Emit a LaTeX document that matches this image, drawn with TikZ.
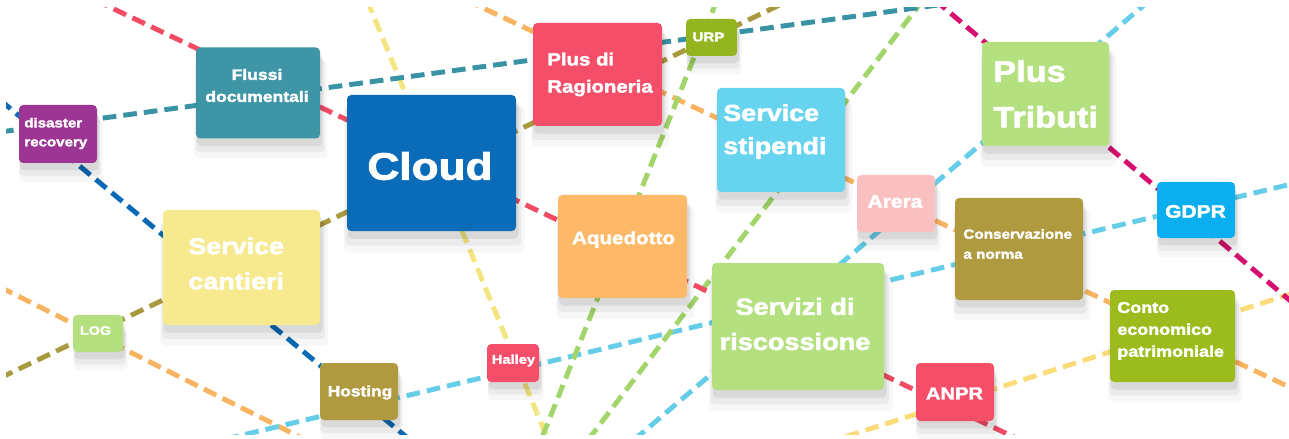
\documentclass[tikz,border=0pt]{standalone}
\usepackage{fontspec}
\newfontfamily\tilefont{Liberation Sans}[FakeStretch=1.16, BoldFeatures={FakeBold=2.2}]
\usetikzlibrary{shadows}

\definecolor{tpurple}{HTML}{9C3593}
\definecolor{tteal}{HTML}{3D95A6}
\definecolor{tblue}{HTML}{0A6BB8}
\definecolor{tred}{HTML}{F44E69}
\definecolor{tolive}{HTML}{93B51F}
\definecolor{tcyan}{HTML}{66D3EF}
\definecolor{tlime}{HTML}{B4E07F}
\definecolor{tpink}{HTML}{FAC0C0}
\definecolor{tkhaki}{HTML}{B09A3F}
\definecolor{tsky}{HTML}{0BAFEF}
\definecolor{tsand}{HTML}{F7E98E}
\definecolor{torange}{HTML}{FDB968}
\definecolor{tgrass}{HTML}{9BBC1C}
% dashed connectors
\definecolor{lred}{HTML}{F24C65}
\definecolor{lteal}{HTML}{3A93A4}
\definecolor{lblue}{HTML}{0A6AB5}
\definecolor{lkhaki}{HTML}{A89A3E}
\definecolor{lyellow}{HTML}{F3E57F}
\definecolor{lgreen}{HTML}{A2D56A}
\definecolor{lorange}{HTML}{F9B462}
\definecolor{lcyan}{HTML}{66CDE8}
\definecolor{lmagenta}{HTML}{D6106E}
\definecolor{lgold}{HTML}{FBDC78}

\tikzset{
  tile/.style={rounded corners=2.4pt, inner sep=0pt, outer sep=0pt,
    general shadow={fill=black, opacity=0.03, shadow xshift=1.5pt, shadow yshift=-9pt, shadow scale=1.07},
    general shadow={fill=black, opacity=0.05, shadow xshift=1pt, shadow yshift=-6.5pt, shadow scale=1.04},
    general shadow={fill=black, opacity=0.07, shadow xshift=1pt, shadow yshift=-4pt, shadow scale=1.01}},
  tilesize/.style 2 args={minimum width=#1*0.02cm, minimum height=#2*0.02cm},
  caption/.style 2 args={text=white, inner sep=0pt,
    font=\tilefont\bfseries\fontsize{#1}{#2}\selectfont},
  link/.style={line width=2.8pt, dash pattern=on 7.8pt off 4pt},
}

\begin{document}
\begin{tikzpicture}[x=0.02cm, y=-0.02cm]
			%%%%% FRAME %%%%%
			\fill[white] (0, 0) rectangle (1289, 439);
			\useasboundingbox (0, 0) rectangle (1289, 439);
			
			%%%%% LINES %%%%%
			\begin{scope}
			\clip (6, 8) rectangle (1289, 434);
			\coordinate (red-a) at (95, 0);     \coordinate (red-b) at (1020, 440);
			\coordinate (teal-a) at (0, 132);   \coordinate (teal-b) at (975, 0);
			\coordinate (blue-a) at (0, 100);   \coordinate (blue-b) at (410, 440);
			\coordinate (khaki-a) at (0, 378);  \coordinate (khaki-b) at (790, 0);
			\coordinate (yel-a) at (367, 0);    \coordinate (yel-b) at (548, 440);
			\coordinate (grn-a) at (717, 0);    \coordinate (grn-b) at (541, 440);
			\coordinate (grn2-a) at (923, 0);   \coordinate (grn2-b) at (588, 440);
			\coordinate (org-a) at (466, 0);    \coordinate (org-b) at (1300, 392);
			\coordinate (org2-a) at (0, 287);   \coordinate (org2-b) at (310, 442);
			\coordinate (cyan-a) at (205, 444); \coordinate (cyan-b) at (1300, 182);
			\coordinate (cyan2-a) at (634, 440);\coordinate (cyan2-b) at (1150, 0);
			\coordinate (mag-a) at (935, 0);    \coordinate (mag-b) at (1300, 309);
			\coordinate (gold-a) at (826, 443); \coordinate (gold-b) at (1300, 291);
			
			\draw[link, lyellow] (yel-a) -- (yel-b);
			\draw[link, lgold] (gold-a) -- (gold-b);
			\draw[link, lorange] (org-a) -- (org-b);
			\draw[link, lorange] (org2-a) -- (org2-b);
			\draw[link, lcyan] (cyan-a) -- (cyan-b);
			\draw[link, lcyan] (cyan2-a) -- (cyan2-b);
			\draw[link, lgreen] (grn-a) -- (grn-b);
			\draw[link, lgreen] (grn2-a) -- (grn2-b);
			\draw[link, lkhaki] (khaki-a) -- (khaki-b);
			\draw[link, lblue] (blue-a) -- (blue-b);
			\draw[link, lteal] (teal-a) -- (teal-b);
			\draw[link, lred] (red-a) -- (red-b);
			\draw[link, lmagenta] (mag-a) -- (mag-b);
			\end{scope}
			
			%%%%% TILES %%%%%
			\node[tile, tilesize={78}{58}, fill=tpurple] (dr) at (58, 134) {};
			\node[tile, tilesize={124}{91}, fill=tteal] (fd) at (258, 93) {};
			\node[tile, tilesize={169}{136}, fill=tblue] (cloud) at (431.5, 163) {};
			\node[tile, tilesize={129}{103}, fill=tred] (pr) at (597.5, 74.5) {};
			\node[tile, tilesize={51}{37}, fill=tolive] (urp) at (711.5, 37.5) {};
			\node[tile, tilesize={128}{104}, fill=tcyan] (ss) at (781, 140) {};
			\node[tile, tilesize={127}{104}, fill=tlime] (pt) at (1045.5, 94) {};
			\node[tile, tilesize={78}{57}, fill=tpink] (arera) at (896, 203.5) {};
			\node[tile, tilesize={128}{102}, fill=tkhaki] (cn) at (1019, 249) {};
			\node[tile, tilesize={78}{56}, fill=tsky] (gdpr) at (1196, 210) {};
			\node[tile, tilesize={157}{115}, fill=tsand] (sc) at (241.5, 267.5) {};
			\node[tile, tilesize={129}{103}, fill=torange] (aq) at (622.5, 246.5) {};
			\node[tile, tilesize={172}{127}, fill=tlime] (sr) at (798, 326.5) {};
			\node[tile, tilesize={125}{92}, fill=tgrass] (ce) at (1172.5, 336) {};
			\node[tile, tilesize={50}{37}, fill=tlime] (log) at (98, 333.5) {};
			\node[tile, tilesize={78}{57}, fill=tkhaki] (host) at (359, 391.5) {};
			\node[tile, tilesize={52}{38}, fill=tred] (halley) at (513, 363) {};
			\node[tile, tilesize={78}{58}, fill=tred] (anpr) at (955, 392) {};
			
			%%%%% CAPTIONS %%%%%
			\node[caption={7.4}{10.8}, align=left, anchor=west] (dr-l) at (24, 133.5) {disaster\\recovery};
			\node[caption={8.6}{12.5}, align=center] (fd-l) at (257, 85.5) {Flussi\\documentali};
			\node[caption={21.7}{26}] (cloud-l) at (430, 166) {Cloud};
			\node[caption={10}{15.4}, align=left, anchor=west] (pr-l) at (547, 74.5) {Plus di\\Ragioneria};
			\node[caption={7.4}{9}] (urp-l) at (708.5, 37) {URP};
			\node[caption={13.2}{18.8}, align=left, anchor=west] (ss-l) at (723, 131.5) {Service\\stipendi};
			\node[caption={16.8}{26}, align=left, anchor=west] (pt-l) at (993, 94) {Plus\\Tributi};
			\node[caption={10.3}{12}] (arera-l) at (895, 201.5) {Arera};
			\node[caption={7.5}{11.4}, align=left, anchor=west] (cn-l) at (963, 244) {Conservazione\\a norma};
			\node[caption={10.3}{12}] (gdpr-l) at (1195.5, 211.5) {GDPR};
			\node[caption={13.2}{20}, align=left, anchor=west] (sc-l) at (188, 263.5) {Service\\cantieri};
			\node[caption={10.1}{12}] (aq-l) at (623.5, 239.5) {Aquedotto};
			\node[caption={13.3}{20}, align=center] (sr-l) at (795, 324) {Servizi di\\riscossione};
			\node[caption={8.8}{12.5}, align=left, anchor=west] (ce-l) at (1117, 331) {Conto\\economico\\patrimoniale};
			\node[caption={7}{9}] (log-l) at (95.5, 330.5) {LOG};
			\node[caption={8.5}{10}] (host-l) at (360, 392.5) {Hosting};
			\node[caption={7.2}{9}] (halley-l) at (513.5, 360.5) {Halley};
			\node[caption={9.9}{12}] (anpr-l) at (954.5, 393.5) {ANPR};
\end{tikzpicture}
\end{document}
